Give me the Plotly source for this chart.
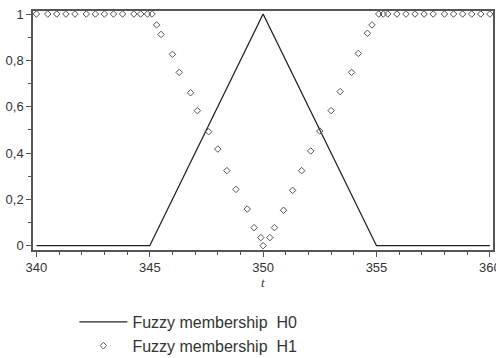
import plotly.graph_objects as go

# H0: triangular membership
t_h0 = [340, 345, 350, 355, 360]
h0 = [0, 0, 1, 0, 0]

t_h1 = [340.0, 340.5, 340.9, 341.3, 341.7, 342.2, 342.6, 343.0, 343.4, 343.8, 344.3, 344.6, 344.9, 345.1,
        345.3, 345.5, 346.0, 346.3, 346.8, 347.1, 347.6, 348.0, 348.4, 348.8, 349.3, 349.6, 349.9, 350.0,
        350.3, 350.5, 350.9, 351.3, 351.7, 352.1, 352.5, 353.0, 353.4, 353.9, 354.2, 354.6, 354.8,
        355.1, 355.3, 355.5, 355.9, 356.3, 356.7, 357.1, 357.5, 358.0, 358.4, 358.8, 359.2, 359.6, 360.0]
h1 = [1, 1, 1, 1, 1, 1, 1, 1, 1, 1, 1, 1, 1, 1,
      0.953, 0.912, 0.826, 0.748, 0.660, 0.583, 0.492, 0.417, 0.324, 0.243, 0.158, 0.078, 0.035, 0.0,
      0.035, 0.078, 0.153, 0.239, 0.324, 0.409, 0.495, 0.583, 0.665, 0.748, 0.830, 0.917, 0.953,
      1, 1, 1, 1, 1, 1, 1, 1, 1, 1, 1, 1, 1, 1]

x_ticks = [340, 345, 350, 355, 360]
y_ticks = [0, 0.2, 0.4, 0.6, 0.8, 1]
y_labels = ["0", "0,2", "0,4", "0,6", "0,8", "1"]
x_title = "t"

fig = go.Figure()
fig.add_trace(go.Scatter(x=t_h0, y=h0, mode="lines", name="Fuzzy membership  H0",
                         line=dict(color="#222222", width=1.3)))
fig.add_trace(go.Scatter(x=t_h1, y=h1, mode="markers", name="Fuzzy membership  H1",
                         marker=dict(symbol="diamond-open", size=5, color="#555555",
                                     line=dict(width=1, color="#555555"))))

axis_font = dict(family="Liberation Sans, Arial, sans-serif", size=13, color="#333333")
fig.update_layout(
    width=496, height=358,
    margin=dict(l=33, r=3, t=11, b=108, autoexpand=False),
    plot_bgcolor="white", paper_bgcolor="white",
    showlegend=True,
    legend=dict(x=0.09, y=-0.23, xanchor="left", yanchor="top",
                font=dict(family="Liberation Sans, Arial, sans-serif", size=16, color="#333333"),
                itemwidth=48, bgcolor="rgba(0,0,0,0)"),
    xaxis=dict(range=[339.85, 360.14], tickvals=x_ticks, ticktext=[str(v) for v in x_ticks],
               showgrid=False, zeroline=False, showline=True, linecolor="#555555", linewidth=1.5,
               mirror=True, ticks="outside", ticklen=5, tickcolor="#555555", tickwidth=1,
               tickfont=axis_font, ticklabeloverflow="allow", ticklabelstandoff=0, automargin=False,
               minor=dict(dtick=1, ticks="outside", ticklen=3, tickcolor="#555555", showgrid=False)),
    yaxis=dict(range=[-0.0186, 1.013], tickvals=y_ticks, ticktext=y_labels,
               showgrid=False, zeroline=False, showline=True, linecolor="#555555", linewidth=1.5,
               mirror=True, ticks="outside", ticklen=5, tickcolor="#555555", tickwidth=1,
               tickfont=axis_font, automargin=False,
               minor=dict(dtick=0.1, ticks="outside", ticklen=3, tickcolor="#555555", showgrid=False)),
    annotations=[dict(x=350, xref="x", y=0, yref="paper", yanchor="top", yshift=-23,
                      text=x_title, showarrow=False,
                      font=dict(family="Liberation Serif, serif", size=13, color="#333333",
                                style="italic"))],
)

fig.write_html("out.html")
